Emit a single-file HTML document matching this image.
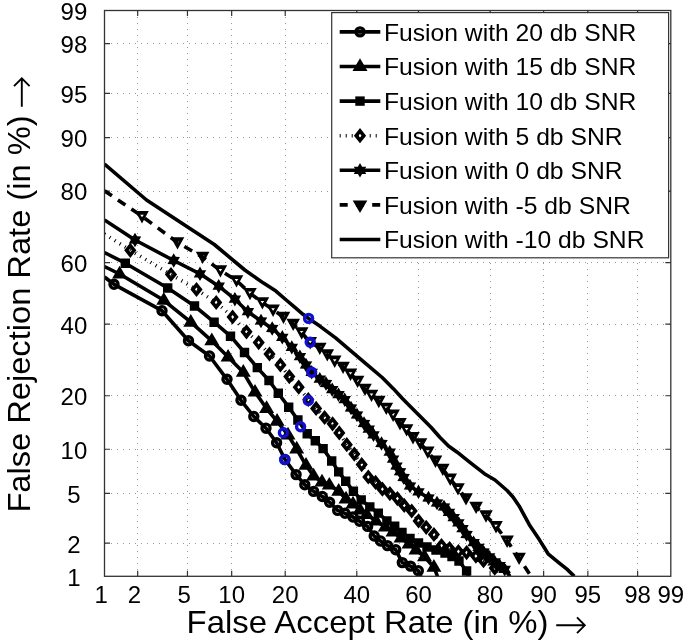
<!DOCTYPE html><html><head><meta charset="utf-8"><style>html,body{margin:0;padding:0;background:#fff;}body{width:685px;height:643px;overflow:hidden;font-family:"Liberation Sans",sans-serif;}</style></head><body><svg width="685" height="643" viewBox="0 0 685 643" style="display:block;will-change:transform">
<rect width="685" height="643" fill="#fff"/>
<path d="M137.50 11V576.3M105 543.50H670.8M187.50 11V576.3M105 493.50H670.8M231.50 11V576.3M105 449.50H670.8M285.50 11V576.3M105 395.50H670.8M356.50 11V576.3M105 324.50H670.8M418.50 11V576.3M105 262.50H670.8M490.50 11V576.3M105 191.50H670.8M543.50 11V576.3M105 137.50H670.8M587.50 11V576.3M105 93.50H670.8M637.50 11V576.3M105 43.50H670.8" stroke="#999" stroke-width="1" stroke-dasharray="1 5" fill="none"/>
<path d="M137.68 10.5v5.5M137.68 576.3v-5.5M104.5 543.15h5.5M670.8 543.15h-5.5M187.45 10.5v5.5M187.45 576.3v-5.5M104.5 493.43h5.5M670.8 493.43h-5.5M231.67 10.5v5.5M231.67 576.3v-5.5M104.5 449.25h5.5M670.8 449.25h-5.5M285.21 10.5v5.5M285.21 576.3v-5.5M104.5 395.75h5.5M670.8 395.75h-5.5M356.81 10.5v5.5M356.81 576.3v-5.5M104.5 324.21h5.5M670.8 324.21h-5.5M418.49 10.5v5.5M418.49 576.3v-5.5M104.5 262.59h5.5M670.8 262.59h-5.5M490.09 10.5v5.5M490.09 576.3v-5.5M104.5 191.05h5.5M670.8 191.05h-5.5M543.63 10.5v5.5M543.63 576.3v-5.5M104.5 137.55h5.5M670.8 137.55h-5.5M587.85 10.5v5.5M587.85 576.3v-5.5M104.5 93.37h5.5M670.8 93.37h-5.5M637.62 10.5v5.5M637.62 576.3v-5.5M104.5 43.65h5.5M670.8 43.65h-5.5" stroke="#333" stroke-width="1.2" fill="none"/>
<g font-family="Liberation Sans" font-size="24" fill="#000"><text x="101.17" y="603.3" text-anchor="middle">1</text><text x="80.63" y="585.70" text-anchor="end">1</text><text x="134.35" y="603.3" text-anchor="middle">2</text><text x="80.63" y="552.55" text-anchor="end">2</text><text x="184.11" y="603.3" text-anchor="middle">5</text><text x="80.63" y="502.83" text-anchor="end">5</text><text x="231.67" y="603.3" text-anchor="middle">10</text><text x="87.30" y="458.65" text-anchor="end">10</text><text x="285.21" y="603.3" text-anchor="middle">20</text><text x="87.30" y="405.15" text-anchor="end">20</text><text x="356.81" y="603.3" text-anchor="middle">40</text><text x="87.30" y="333.61" text-anchor="end">40</text><text x="418.49" y="603.3" text-anchor="middle">60</text><text x="87.30" y="271.99" text-anchor="end">60</text><text x="490.09" y="603.3" text-anchor="middle">80</text><text x="87.30" y="200.45" text-anchor="end">80</text><text x="543.63" y="603.3" text-anchor="middle">90</text><text x="87.30" y="146.95" text-anchor="end">90</text><text x="587.85" y="603.3" text-anchor="middle">95</text><text x="87.30" y="102.77" text-anchor="end">95</text><text x="637.62" y="603.3" text-anchor="middle">98</text><text x="87.30" y="53.05" text-anchor="end">98</text><text x="670.80" y="603.3" text-anchor="middle">99</text><text x="87.30" y="19.90" text-anchor="end">99</text></g>
<text transform="translate(186.6 633.2) scale(1.028 1)" font-family="Liberation Sans" font-size="32" fill="#000">False Accept Rate (in %)</text>
<path d="M556.2 625.3H584.3M577 617.4L584.8 625.3L577 633.2" fill="none" stroke="#000" stroke-width="1.9"/>
<text transform="translate(29.5 512.6) rotate(-90) scale(1.02 1)" font-family="Liberation Sans" font-size="32" fill="#000">False Rejection Rate (in %)</text>
<path d="M21.8 106.7V78.8M14 86.2L21.8 78.3L29.6 86.2" fill="none" stroke="#000" stroke-width="1.9"/>
<defs><clipPath id="ax"><rect x="104.5" y="10.5" width="566.3" height="565.8"/></clipPath></defs>
<g clip-path="url(#ax)">
<path d="M104.5 277.0L114.0 284.3L162.0 310.7L188.5 340.8L209.5 356.0L227.0 379.3L241.0 400.3L253.8 416.5L266.0 428.2L276.6 442.8L285.0 459.5L296.1 474.6L304.8 484.8L313.6 491.4L322.3 496.5L329.6 502.3L337.7 510.4L345.0 513.3L353.0 517.0L359.6 521.3L367.6 526.4L374.2 536.0L380.5 541.0L387.5 545.6L395.7 549.7L402.3 562.6L410.5 566.1L418.3 570.7L421.0 576.3" fill="none" stroke="#000" stroke-width="3.6" stroke-linejoin="round"/>
<path d="M108.30 284.30a5.7 5.7 0 1 0 11.4 0a5.7 5.7 0 1 0 -11.4 0ZM111.60 284.30a2.4 2.4 0 1 1 4.8 0a2.4 2.4 0 1 1 -4.8 0ZM156.30 310.70a5.7 5.7 0 1 0 11.4 0a5.7 5.7 0 1 0 -11.4 0ZM159.60 310.70a2.4 2.4 0 1 1 4.8 0a2.4 2.4 0 1 1 -4.8 0ZM182.80 340.80a5.7 5.7 0 1 0 11.4 0a5.7 5.7 0 1 0 -11.4 0ZM186.10 340.80a2.4 2.4 0 1 1 4.8 0a2.4 2.4 0 1 1 -4.8 0ZM203.80 356.00a5.7 5.7 0 1 0 11.4 0a5.7 5.7 0 1 0 -11.4 0ZM207.10 356.00a2.4 2.4 0 1 1 4.8 0a2.4 2.4 0 1 1 -4.8 0ZM221.30 379.30a5.7 5.7 0 1 0 11.4 0a5.7 5.7 0 1 0 -11.4 0ZM224.60 379.30a2.4 2.4 0 1 1 4.8 0a2.4 2.4 0 1 1 -4.8 0ZM235.30 400.30a5.7 5.7 0 1 0 11.4 0a5.7 5.7 0 1 0 -11.4 0ZM238.60 400.30a2.4 2.4 0 1 1 4.8 0a2.4 2.4 0 1 1 -4.8 0ZM248.10 416.50a5.7 5.7 0 1 0 11.4 0a5.7 5.7 0 1 0 -11.4 0ZM251.40 416.50a2.4 2.4 0 1 1 4.8 0a2.4 2.4 0 1 1 -4.8 0ZM260.30 428.20a5.7 5.7 0 1 0 11.4 0a5.7 5.7 0 1 0 -11.4 0ZM263.60 428.20a2.4 2.4 0 1 1 4.8 0a2.4 2.4 0 1 1 -4.8 0ZM270.90 442.80a5.7 5.7 0 1 0 11.4 0a5.7 5.7 0 1 0 -11.4 0ZM274.20 442.80a2.4 2.4 0 1 1 4.8 0a2.4 2.4 0 1 1 -4.8 0ZM279.30 459.50a5.7 5.7 0 1 0 11.4 0a5.7 5.7 0 1 0 -11.4 0ZM282.60 459.50a2.4 2.4 0 1 1 4.8 0a2.4 2.4 0 1 1 -4.8 0ZM290.40 474.60a5.7 5.7 0 1 0 11.4 0a5.7 5.7 0 1 0 -11.4 0ZM293.70 474.60a2.4 2.4 0 1 1 4.8 0a2.4 2.4 0 1 1 -4.8 0ZM299.10 484.80a5.7 5.7 0 1 0 11.4 0a5.7 5.7 0 1 0 -11.4 0ZM302.40 484.80a2.4 2.4 0 1 1 4.8 0a2.4 2.4 0 1 1 -4.8 0ZM307.90 491.40a5.7 5.7 0 1 0 11.4 0a5.7 5.7 0 1 0 -11.4 0ZM311.20 491.40a2.4 2.4 0 1 1 4.8 0a2.4 2.4 0 1 1 -4.8 0ZM316.60 496.50a5.7 5.7 0 1 0 11.4 0a5.7 5.7 0 1 0 -11.4 0ZM319.90 496.50a2.4 2.4 0 1 1 4.8 0a2.4 2.4 0 1 1 -4.8 0ZM323.90 502.30a5.7 5.7 0 1 0 11.4 0a5.7 5.7 0 1 0 -11.4 0ZM327.20 502.30a2.4 2.4 0 1 1 4.8 0a2.4 2.4 0 1 1 -4.8 0ZM332.00 510.40a5.7 5.7 0 1 0 11.4 0a5.7 5.7 0 1 0 -11.4 0ZM335.30 510.40a2.4 2.4 0 1 1 4.8 0a2.4 2.4 0 1 1 -4.8 0ZM339.30 513.30a5.7 5.7 0 1 0 11.4 0a5.7 5.7 0 1 0 -11.4 0ZM342.60 513.30a2.4 2.4 0 1 1 4.8 0a2.4 2.4 0 1 1 -4.8 0ZM347.30 517.00a5.7 5.7 0 1 0 11.4 0a5.7 5.7 0 1 0 -11.4 0ZM350.60 517.00a2.4 2.4 0 1 1 4.8 0a2.4 2.4 0 1 1 -4.8 0ZM353.90 521.30a5.7 5.7 0 1 0 11.4 0a5.7 5.7 0 1 0 -11.4 0ZM357.20 521.30a2.4 2.4 0 1 1 4.8 0a2.4 2.4 0 1 1 -4.8 0ZM361.90 526.40a5.7 5.7 0 1 0 11.4 0a5.7 5.7 0 1 0 -11.4 0ZM365.20 526.40a2.4 2.4 0 1 1 4.8 0a2.4 2.4 0 1 1 -4.8 0ZM368.50 536.00a5.7 5.7 0 1 0 11.4 0a5.7 5.7 0 1 0 -11.4 0ZM371.80 536.00a2.4 2.4 0 1 1 4.8 0a2.4 2.4 0 1 1 -4.8 0ZM374.80 541.00a5.7 5.7 0 1 0 11.4 0a5.7 5.7 0 1 0 -11.4 0ZM378.10 541.00a2.4 2.4 0 1 1 4.8 0a2.4 2.4 0 1 1 -4.8 0ZM381.80 545.60a5.7 5.7 0 1 0 11.4 0a5.7 5.7 0 1 0 -11.4 0ZM385.10 545.60a2.4 2.4 0 1 1 4.8 0a2.4 2.4 0 1 1 -4.8 0ZM390.00 549.70a5.7 5.7 0 1 0 11.4 0a5.7 5.7 0 1 0 -11.4 0ZM393.30 549.70a2.4 2.4 0 1 1 4.8 0a2.4 2.4 0 1 1 -4.8 0ZM396.60 562.60a5.7 5.7 0 1 0 11.4 0a5.7 5.7 0 1 0 -11.4 0ZM399.90 562.60a2.4 2.4 0 1 1 4.8 0a2.4 2.4 0 1 1 -4.8 0ZM404.80 566.10a5.7 5.7 0 1 0 11.4 0a5.7 5.7 0 1 0 -11.4 0ZM408.10 566.10a2.4 2.4 0 1 1 4.8 0a2.4 2.4 0 1 1 -4.8 0ZM412.60 570.70a5.7 5.7 0 1 0 11.4 0a5.7 5.7 0 1 0 -11.4 0ZM415.90 570.70a2.4 2.4 0 1 1 4.8 0a2.4 2.4 0 1 1 -4.8 0Z" fill="#000" fill-rule="nonzero"/>
<path d="M104.5 266.6L119.6 274.0L163.8 300.3L190.8 322.2L211.8 340.8L228.1 357.1L243.3 372.3L255.0 392.1L266.6 408.5L277.1 421.3L288.0 435.0L296.7 449.0L306.0 465.3L313.6 476.0L322.0 482.0L329.3 485.1L338.7 491.3L346.0 499.0L353.0 504.0L360.0 510.0L366.7 514.6L376.0 520.9L385.3 527.1L393.0 532.0L401.0 538.0L409.0 544.0L416.0 550.0L424.5 556.7L433.9 567.2L437.5 576.3" fill="none" stroke="#000" stroke-width="3.6" stroke-linejoin="round"/>
<path d="M119.60 265.80L127.10 278.50L112.10 278.50ZM163.80 292.10L171.30 304.80L156.30 304.80ZM190.80 314.00L198.30 326.70L183.30 326.70ZM211.80 332.60L219.30 345.30L204.30 345.30ZM228.10 348.90L235.60 361.60L220.60 361.60ZM243.30 364.10L250.80 376.80L235.80 376.80ZM255.00 383.90L262.50 396.60L247.50 396.60ZM266.60 400.30L274.10 413.00L259.10 413.00ZM277.10 413.10L284.60 425.80L269.60 425.80ZM288.00 426.80L295.50 439.50L280.50 439.50ZM296.70 440.80L304.20 453.50L289.20 453.50ZM306.00 457.10L313.50 469.80L298.50 469.80ZM313.60 467.80L321.10 480.50L306.10 480.50ZM322.00 473.80L329.50 486.50L314.50 486.50ZM329.30 476.90L336.80 489.60L321.80 489.60ZM338.70 483.10L346.20 495.80L331.20 495.80ZM346.00 490.80L353.50 503.50L338.50 503.50ZM353.00 495.80L360.50 508.50L345.50 508.50ZM360.00 501.80L367.50 514.50L352.50 514.50ZM366.70 506.40L374.20 519.10L359.20 519.10ZM376.00 512.70L383.50 525.40L368.50 525.40ZM385.30 518.90L392.80 531.60L377.80 531.60ZM393.00 523.80L400.50 536.50L385.50 536.50ZM401.00 529.80L408.50 542.50L393.50 542.50ZM409.00 535.80L416.50 548.50L401.50 548.50ZM416.00 541.80L423.50 554.50L408.50 554.50ZM424.50 548.50L432.00 561.20L417.00 561.20ZM433.90 559.00L441.40 571.70L426.40 571.70Z" fill="#000" fill-rule="nonzero"/>
<path d="M104.5 252.6L125.3 263.2L167.7 288.0L194.5 306.0L214.1 322.2L230.5 336.2L244.5 352.5L257.3 367.6L269.0 380.5L278.3 393.3L288.7 407.2L297.9 420.0L307.2 433.8L315.3 440.8L323.1 448.6L331.7 461.0L338.7 471.9L345.7 481.2L353.4 491.3L361.2 499.9L369.8 506.9L378.3 513.1L386.9 520.9L394.7 526.3L402.0 532.5L410.0 538.5L418.5 543.0L427.0 547.0L436.0 550.0L445.0 553.0L452.0 556.5L459.0 561.0L466.6 571.0L468.5 576.3" fill="none" stroke="#000" stroke-width="3.6" stroke-linejoin="round"/>
<path d="M120.60 258.50L130.00 258.50L130.00 267.90L120.60 267.90ZM163.00 283.30L172.40 283.30L172.40 292.70L163.00 292.70ZM189.80 301.30L199.20 301.30L199.20 310.70L189.80 310.70ZM209.40 317.50L218.80 317.50L218.80 326.90L209.40 326.90ZM225.80 331.50L235.20 331.50L235.20 340.90L225.80 340.90ZM239.80 347.80L249.20 347.80L249.20 357.20L239.80 357.20ZM252.60 362.90L262.00 362.90L262.00 372.30L252.60 372.30ZM264.30 375.80L273.70 375.80L273.70 385.20L264.30 385.20ZM273.60 388.60L283.00 388.60L283.00 398.00L273.60 398.00ZM284.00 402.50L293.40 402.50L293.40 411.90L284.00 411.90ZM293.20 415.30L302.60 415.30L302.60 424.70L293.20 424.70ZM302.50 429.10L311.90 429.10L311.90 438.50L302.50 438.50ZM310.60 436.10L320.00 436.10L320.00 445.50L310.60 445.50ZM318.40 443.90L327.80 443.90L327.80 453.30L318.40 453.30ZM327.00 456.30L336.40 456.30L336.40 465.70L327.00 465.70ZM334.00 467.20L343.40 467.20L343.40 476.60L334.00 476.60ZM341.00 476.50L350.40 476.50L350.40 485.90L341.00 485.90ZM348.70 486.60L358.10 486.60L358.10 496.00L348.70 496.00ZM356.50 495.20L365.90 495.20L365.90 504.60L356.50 504.60ZM365.10 502.20L374.50 502.20L374.50 511.60L365.10 511.60ZM373.60 508.40L383.00 508.40L383.00 517.80L373.60 517.80ZM382.20 516.20L391.60 516.20L391.60 525.60L382.20 525.60ZM390.00 521.60L399.40 521.60L399.40 531.00L390.00 531.00ZM397.30 527.80L406.70 527.80L406.70 537.20L397.30 537.20ZM405.30 533.80L414.70 533.80L414.70 543.20L405.30 543.20ZM413.80 538.30L423.20 538.30L423.20 547.70L413.80 547.70ZM422.30 542.30L431.70 542.30L431.70 551.70L422.30 551.70ZM431.30 545.30L440.70 545.30L440.70 554.70L431.30 554.70ZM440.30 548.30L449.70 548.30L449.70 557.70L440.30 557.70ZM447.30 551.80L456.70 551.80L456.70 561.20L447.30 561.20ZM454.30 556.30L463.70 556.30L463.70 565.70L454.30 565.70ZM461.90 566.30L471.30 566.30L471.30 575.70L461.90 575.70Z" fill="#000" fill-rule="nonzero"/>
<path d="M104.5 234.0L130.3 250.3L171.0 274.5L196.5 289.5L216.2 302.5L232.6 317.0L246.5 331.8L258.7 342.6L269.5 354.0L280.4 364.9L289.3 376.6L298.7 387.2L308.3 399.5L316.1 408.4L324.6 417.5L332.6 423.8L339.3 432.9L346.8 444.7L354.3 454.1L361.7 464.6L368.3 477.0L375.6 482.4L382.4 489.2L389.9 493.6L397.4 498.6L404.2 505.4L411.7 511.0L418.6 520.9L426.2 527.3L433.9 534.5L441.5 545.6L449.6 548.5L458.4 551.5L466.6 552.6L475.9 556.1L483.5 560.7L494.7 568.1L499.0 576.3" fill="none" stroke="#000" stroke-width="3.6" stroke-linejoin="round" stroke-dasharray="1 5"/>
<path d="M130.30 242.70L136.40 250.30L130.30 257.90L124.20 250.30ZM130.30 248.40L128.80 250.30L130.30 252.20L131.80 250.30ZM171.00 266.90L177.10 274.50L171.00 282.10L164.90 274.50ZM171.00 272.60L169.50 274.50L171.00 276.40L172.50 274.50ZM196.50 281.90L202.60 289.50L196.50 297.10L190.40 289.50ZM196.50 287.60L195.00 289.50L196.50 291.40L198.00 289.50ZM216.20 294.90L222.30 302.50L216.20 310.10L210.10 302.50ZM216.20 300.60L214.70 302.50L216.20 304.40L217.70 302.50ZM232.60 309.40L238.70 317.00L232.60 324.60L226.50 317.00ZM232.60 315.10L231.10 317.00L232.60 318.90L234.10 317.00ZM246.50 324.20L252.60 331.80L246.50 339.40L240.40 331.80ZM246.50 329.90L245.00 331.80L246.50 333.70L248.00 331.80ZM258.70 335.00L264.80 342.60L258.70 350.20L252.60 342.60ZM258.70 340.70L257.20 342.60L258.70 344.50L260.20 342.60ZM269.50 346.40L275.60 354.00L269.50 361.60L263.40 354.00ZM269.50 352.10L268.00 354.00L269.50 355.90L271.00 354.00ZM280.40 357.30L286.50 364.90L280.40 372.50L274.30 364.90ZM280.40 363.00L278.90 364.90L280.40 366.80L281.90 364.90ZM289.30 369.00L295.40 376.60L289.30 384.20L283.20 376.60ZM289.30 374.70L287.80 376.60L289.30 378.50L290.80 376.60ZM298.70 379.60L304.80 387.20L298.70 394.80L292.60 387.20ZM298.70 385.30L297.20 387.20L298.70 389.10L300.20 387.20ZM308.30 391.90L314.40 399.50L308.30 407.10L302.20 399.50ZM308.30 397.60L306.80 399.50L308.30 401.40L309.80 399.50ZM316.10 400.80L322.20 408.40L316.10 416.00L310.00 408.40ZM316.10 406.50L314.60 408.40L316.10 410.30L317.60 408.40ZM324.60 409.90L330.70 417.50L324.60 425.10L318.50 417.50ZM324.60 415.60L323.10 417.50L324.60 419.40L326.10 417.50ZM332.60 416.20L338.70 423.80L332.60 431.40L326.50 423.80ZM332.60 421.90L331.10 423.80L332.60 425.70L334.10 423.80ZM339.30 425.30L345.40 432.90L339.30 440.50L333.20 432.90ZM339.30 431.00L337.80 432.90L339.30 434.80L340.80 432.90ZM346.80 437.10L352.90 444.70L346.80 452.30L340.70 444.70ZM346.80 442.80L345.30 444.70L346.80 446.60L348.30 444.70ZM354.30 446.50L360.40 454.10L354.30 461.70L348.20 454.10ZM354.30 452.20L352.80 454.10L354.30 456.00L355.80 454.10ZM361.70 457.00L367.80 464.60L361.70 472.20L355.60 464.60ZM361.70 462.70L360.20 464.60L361.70 466.50L363.20 464.60ZM368.30 469.40L374.40 477.00L368.30 484.60L362.20 477.00ZM368.30 475.10L366.80 477.00L368.30 478.90L369.80 477.00ZM375.60 474.80L381.70 482.40L375.60 490.00L369.50 482.40ZM375.60 480.50L374.10 482.40L375.60 484.30L377.10 482.40ZM382.40 481.60L388.50 489.20L382.40 496.80L376.30 489.20ZM382.40 487.30L380.90 489.20L382.40 491.10L383.90 489.20ZM389.90 486.00L396.00 493.60L389.90 501.20L383.80 493.60ZM389.90 491.70L388.40 493.60L389.90 495.50L391.40 493.60ZM397.40 491.00L403.50 498.60L397.40 506.20L391.30 498.60ZM397.40 496.70L395.90 498.60L397.40 500.50L398.90 498.60ZM404.20 497.80L410.30 505.40L404.20 513.00L398.10 505.40ZM404.20 503.50L402.70 505.40L404.20 507.30L405.70 505.40ZM411.70 503.40L417.80 511.00L411.70 518.60L405.60 511.00ZM411.70 509.10L410.20 511.00L411.70 512.90L413.20 511.00ZM418.60 513.30L424.70 520.90L418.60 528.50L412.50 520.90ZM418.60 519.00L417.10 520.90L418.60 522.80L420.10 520.90ZM426.20 519.70L432.30 527.30L426.20 534.90L420.10 527.30ZM426.20 525.40L424.70 527.30L426.20 529.20L427.70 527.30ZM433.90 526.90L440.00 534.50L433.90 542.10L427.80 534.50ZM433.90 532.60L432.40 534.50L433.90 536.40L435.40 534.50ZM441.50 538.00L447.60 545.60L441.50 553.20L435.40 545.60ZM441.50 543.70L440.00 545.60L441.50 547.50L443.00 545.60ZM449.60 540.90L455.70 548.50L449.60 556.10L443.50 548.50ZM449.60 546.60L448.10 548.50L449.60 550.40L451.10 548.50ZM458.40 543.90L464.50 551.50L458.40 559.10L452.30 551.50ZM458.40 549.60L456.90 551.50L458.40 553.40L459.90 551.50ZM466.60 545.00L472.70 552.60L466.60 560.20L460.50 552.60ZM466.60 550.70L465.10 552.60L466.60 554.50L468.10 552.60ZM475.90 548.50L482.00 556.10L475.90 563.70L469.80 556.10ZM475.90 554.20L474.40 556.10L475.90 558.00L477.40 556.10ZM483.50 553.10L489.60 560.70L483.50 568.30L477.40 560.70ZM483.50 558.80L482.00 560.70L483.50 562.60L485.00 560.70ZM494.70 560.50L500.80 568.10L494.70 575.70L488.60 568.10ZM494.70 566.20L493.20 568.10L494.70 570.00L496.20 568.10Z" fill="#000" fill-rule="nonzero"/>
<path d="M104.5 220.0L135.0 240.0L173.7 260.5L200.0 273.8L218.7 286.2L234.9 299.2L247.9 311.7L261.0 321.0L272.2 328.5L282.3 337.3L291.8 347.4L299.9 356.7L306.0 365.0L311.7 372.3L319.8 379.1L326.0 383.5L332.2 389.7L338.5 394.7L344.7 399.7L351.0 408.0L357.0 415.0L364.0 423.5L373.5 434.8L381.5 443.5L389.7 452.2L396.5 466.0L403.6 477.5L410.0 486.0L418.5 491.8L428.5 498.0L437.0 503.0L444.0 507.0L449.0 512.3L458.4 522.8L466.6 534.5L473.6 542.7L483.5 552.0L494.7 561.9L504.7 569.4L510.0 576.3" fill="none" stroke="#000" stroke-width="3.6" stroke-linejoin="round"/>
<path d="M135.00 232.80L132.90 236.36L128.76 236.40L130.80 240.00L128.76 243.60L132.90 243.64L135.00 247.20L137.10 243.64L141.24 243.60L139.20 240.00L141.24 236.40L137.10 236.36ZM173.70 253.30L171.60 256.86L167.46 256.90L169.50 260.50L167.46 264.10L171.60 264.14L173.70 267.70L175.80 264.14L179.94 264.10L177.90 260.50L179.94 256.90L175.80 256.86ZM200.00 266.60L197.90 270.16L193.76 270.20L195.80 273.80L193.76 277.40L197.90 277.44L200.00 281.00L202.10 277.44L206.24 277.40L204.20 273.80L206.24 270.20L202.10 270.16ZM218.70 279.00L216.60 282.56L212.46 282.60L214.50 286.20L212.46 289.80L216.60 289.84L218.70 293.40L220.80 289.84L224.94 289.80L222.90 286.20L224.94 282.60L220.80 282.56ZM234.90 292.00L232.80 295.56L228.66 295.60L230.70 299.20L228.66 302.80L232.80 302.84L234.90 306.40L237.00 302.84L241.14 302.80L239.10 299.20L241.14 295.60L237.00 295.56ZM247.90 304.50L245.80 308.06L241.66 308.10L243.70 311.70L241.66 315.30L245.80 315.34L247.90 318.90L250.00 315.34L254.14 315.30L252.10 311.70L254.14 308.10L250.00 308.06ZM261.00 313.80L258.90 317.36L254.76 317.40L256.80 321.00L254.76 324.60L258.90 324.64L261.00 328.20L263.10 324.64L267.24 324.60L265.20 321.00L267.24 317.40L263.10 317.36ZM272.20 321.30L270.10 324.86L265.96 324.90L268.00 328.50L265.96 332.10L270.10 332.14L272.20 335.70L274.30 332.14L278.44 332.10L276.40 328.50L278.44 324.90L274.30 324.86ZM282.30 330.10L280.20 333.66L276.06 333.70L278.10 337.30L276.06 340.90L280.20 340.94L282.30 344.50L284.40 340.94L288.54 340.90L286.50 337.30L288.54 333.70L284.40 333.66ZM291.80 340.20L289.70 343.76L285.56 343.80L287.60 347.40L285.56 351.00L289.70 351.04L291.80 354.60L293.90 351.04L298.04 351.00L296.00 347.40L298.04 343.80L293.90 343.76ZM299.90 349.50L297.80 353.06L293.66 353.10L295.70 356.70L293.66 360.30L297.80 360.34L299.90 363.90L302.00 360.34L306.14 360.30L304.10 356.70L306.14 353.10L302.00 353.06ZM306.00 357.80L303.90 361.36L299.76 361.40L301.80 365.00L299.76 368.60L303.90 368.64L306.00 372.20L308.10 368.64L312.24 368.60L310.20 365.00L312.24 361.40L308.10 361.36ZM311.70 365.10L309.60 368.66L305.46 368.70L307.50 372.30L305.46 375.90L309.60 375.94L311.70 379.50L313.80 375.94L317.94 375.90L315.90 372.30L317.94 368.70L313.80 368.66ZM319.80 371.90L317.70 375.46L313.56 375.50L315.60 379.10L313.56 382.70L317.70 382.74L319.80 386.30L321.90 382.74L326.04 382.70L324.00 379.10L326.04 375.50L321.90 375.46ZM326.00 376.30L323.90 379.86L319.76 379.90L321.80 383.50L319.76 387.10L323.90 387.14L326.00 390.70L328.10 387.14L332.24 387.10L330.20 383.50L332.24 379.90L328.10 379.86ZM332.20 382.50L330.10 386.06L325.96 386.10L328.00 389.70L325.96 393.30L330.10 393.34L332.20 396.90L334.30 393.34L338.44 393.30L336.40 389.70L338.44 386.10L334.30 386.06ZM338.50 387.50L336.40 391.06L332.26 391.10L334.30 394.70L332.26 398.30L336.40 398.34L338.50 401.90L340.60 398.34L344.74 398.30L342.70 394.70L344.74 391.10L340.60 391.06ZM344.70 392.50L342.60 396.06L338.46 396.10L340.50 399.70L338.46 403.30L342.60 403.34L344.70 406.90L346.80 403.34L350.94 403.30L348.90 399.70L350.94 396.10L346.80 396.06ZM351.00 400.80L348.90 404.36L344.76 404.40L346.80 408.00L344.76 411.60L348.90 411.64L351.00 415.20L353.10 411.64L357.24 411.60L355.20 408.00L357.24 404.40L353.10 404.36ZM357.00 407.80L354.90 411.36L350.76 411.40L352.80 415.00L350.76 418.60L354.90 418.64L357.00 422.20L359.10 418.64L363.24 418.60L361.20 415.00L363.24 411.40L359.10 411.36ZM364.00 416.30L361.90 419.86L357.76 419.90L359.80 423.50L357.76 427.10L361.90 427.14L364.00 430.70L366.10 427.14L370.24 427.10L368.20 423.50L370.24 419.90L366.10 419.86ZM373.50 427.60L371.40 431.16L367.26 431.20L369.30 434.80L367.26 438.40L371.40 438.44L373.50 442.00L375.60 438.44L379.74 438.40L377.70 434.80L379.74 431.20L375.60 431.16ZM381.50 436.30L379.40 439.86L375.26 439.90L377.30 443.50L375.26 447.10L379.40 447.14L381.50 450.70L383.60 447.14L387.74 447.10L385.70 443.50L387.74 439.90L383.60 439.86ZM389.70 445.00L387.60 448.56L383.46 448.60L385.50 452.20L383.46 455.80L387.60 455.84L389.70 459.40L391.80 455.84L395.94 455.80L393.90 452.20L395.94 448.60L391.80 448.56ZM396.50 458.80L394.40 462.36L390.26 462.40L392.30 466.00L390.26 469.60L394.40 469.64L396.50 473.20L398.60 469.64L402.74 469.60L400.70 466.00L402.74 462.40L398.60 462.36ZM403.60 470.30L401.50 473.86L397.36 473.90L399.40 477.50L397.36 481.10L401.50 481.14L403.60 484.70L405.70 481.14L409.84 481.10L407.80 477.50L409.84 473.90L405.70 473.86ZM410.00 478.80L407.90 482.36L403.76 482.40L405.80 486.00L403.76 489.60L407.90 489.64L410.00 493.20L412.10 489.64L416.24 489.60L414.20 486.00L416.24 482.40L412.10 482.36ZM418.50 484.60L416.40 488.16L412.26 488.20L414.30 491.80L412.26 495.40L416.40 495.44L418.50 499.00L420.60 495.44L424.74 495.40L422.70 491.80L424.74 488.20L420.60 488.16ZM428.50 490.80L426.40 494.36L422.26 494.40L424.30 498.00L422.26 501.60L426.40 501.64L428.50 505.20L430.60 501.64L434.74 501.60L432.70 498.00L434.74 494.40L430.60 494.36ZM437.00 495.80L434.90 499.36L430.76 499.40L432.80 503.00L430.76 506.60L434.90 506.64L437.00 510.20L439.10 506.64L443.24 506.60L441.20 503.00L443.24 499.40L439.10 499.36ZM444.00 499.80L441.90 503.36L437.76 503.40L439.80 507.00L437.76 510.60L441.90 510.64L444.00 514.20L446.10 510.64L450.24 510.60L448.20 507.00L450.24 503.40L446.10 503.36ZM449.00 505.10L446.90 508.66L442.76 508.70L444.80 512.30L442.76 515.90L446.90 515.94L449.00 519.50L451.10 515.94L455.24 515.90L453.20 512.30L455.24 508.70L451.10 508.66ZM458.40 515.60L456.30 519.16L452.16 519.20L454.20 522.80L452.16 526.40L456.30 526.44L458.40 530.00L460.50 526.44L464.64 526.40L462.60 522.80L464.64 519.20L460.50 519.16ZM466.60 527.30L464.50 530.86L460.36 530.90L462.40 534.50L460.36 538.10L464.50 538.14L466.60 541.70L468.70 538.14L472.84 538.10L470.80 534.50L472.84 530.90L468.70 530.86ZM473.60 535.50L471.50 539.06L467.36 539.10L469.40 542.70L467.36 546.30L471.50 546.34L473.60 549.90L475.70 546.34L479.84 546.30L477.80 542.70L479.84 539.10L475.70 539.06ZM483.50 544.80L481.40 548.36L477.26 548.40L479.30 552.00L477.26 555.60L481.40 555.64L483.50 559.20L485.60 555.64L489.74 555.60L487.70 552.00L489.74 548.40L485.60 548.36ZM494.70 554.70L492.60 558.26L488.46 558.30L490.50 561.90L488.46 565.50L492.60 565.54L494.70 569.10L496.80 565.54L500.94 565.50L498.90 561.90L500.94 558.30L496.80 558.26ZM504.70 562.20L502.60 565.76L498.46 565.80L500.50 569.40L498.46 573.00L502.60 573.04L504.70 576.60L506.80 573.04L510.94 573.00L508.90 569.40L510.94 565.80L506.80 565.76ZM368.75 421.95L366.65 425.51L362.51 425.55L364.55 429.15L362.51 432.75L366.65 432.79L368.75 436.35L370.85 432.79L374.99 432.75L372.95 429.15L374.99 425.55L370.85 425.51ZM393.10 451.90L391.00 455.46L386.86 455.50L388.90 459.10L386.86 462.70L391.00 462.74L393.10 466.30L395.20 462.74L399.34 462.70L397.30 459.10L399.34 455.50L395.20 455.46ZM400.05 464.55L397.95 468.11L393.81 468.15L395.85 471.75L393.81 475.35L397.95 475.39L400.05 478.95L402.15 475.39L406.29 475.35L404.25 471.75L406.29 468.15L402.15 468.11ZM453.70 510.35L451.60 513.91L447.46 513.95L449.50 517.55L447.46 521.15L451.60 521.19L453.70 524.75L455.80 521.19L459.94 521.15L457.90 517.55L459.94 513.95L455.80 513.91ZM462.50 521.45L460.40 525.01L456.26 525.05L458.30 528.65L456.26 532.25L460.40 532.29L462.50 535.85L464.60 532.29L468.74 532.25L466.70 528.65L468.74 525.05L464.60 525.01ZM478.55 540.15L476.45 543.71L472.31 543.75L474.35 547.35L472.31 550.95L476.45 550.99L478.55 554.55L480.65 550.99L484.79 550.95L482.75 547.35L484.79 543.75L480.65 543.71ZM489.10 549.75L487.00 553.31L482.86 553.35L484.90 556.95L482.86 560.55L487.00 560.59L489.10 564.15L491.20 560.59L495.34 560.55L493.30 556.95L495.34 553.35L491.20 553.31ZM499.70 558.45L497.60 562.01L493.46 562.05L495.50 565.65L493.46 569.25L497.60 569.29L499.70 572.85L501.80 569.29L505.94 569.25L503.90 565.65L505.94 562.05L501.80 562.01Z" fill="#000" fill-rule="nonzero"/>
<path d="M104.5 190.8L142.0 216.3L177.5 242.5L202.6 257.0L220.4 270.5L236.5 280.5L250.0 293.2L262.4 302.5L273.1 309.8L283.5 317.0L293.2 324.0L301.7 332.6L310.2 342.3L319.8 348.0L327.3 354.5L334.7 360.8L343.1 367.0L350.5 373.8L357.6 381.0L365.0 389.0L371.5 395.0L378.8 401.1L386.3 408.0L393.1 414.9L400.0 423.3L406.6 429.5L413.0 437.3L420.5 443.5L427.8 451.8L435.5 460.8L442.8 469.0L450.2 478.9L458.0 488.5L466.0 498.5L476.1 507.0L486.0 515.6L496.0 526.4L507.1 540.9L519.1 558.0L531.0 576.3" fill="none" stroke="#000" stroke-width="3.6" stroke-linejoin="round" stroke-dasharray="9 7.23"/>
<path d="M135.20 211.00L148.80 211.00L142.00 223.40ZM140.20 214.70L142.00 217.30L143.80 214.70ZM170.70 237.20L184.30 237.20L177.50 249.60ZM175.70 240.90L177.50 243.50L179.30 240.90ZM195.80 251.70L209.40 251.70L202.60 264.10ZM200.80 255.40L202.60 258.00L204.40 255.40ZM213.60 265.20L227.20 265.20L220.40 277.60ZM218.60 268.90L220.40 271.50L222.20 268.90ZM229.70 275.20L243.30 275.20L236.50 287.60ZM234.70 278.90L236.50 281.50L238.30 278.90ZM243.20 287.90L256.80 287.90L250.00 300.30ZM248.20 291.60L250.00 294.20L251.80 291.60ZM255.60 297.20L269.20 297.20L262.40 309.60ZM260.60 300.90L262.40 303.50L264.20 300.90ZM266.30 304.50L279.90 304.50L273.10 316.90ZM271.30 308.20L273.10 310.80L274.90 308.20ZM276.70 311.70L290.30 311.70L283.50 324.10ZM281.70 315.40L283.50 318.00L285.30 315.40ZM286.40 318.70L300.00 318.70L293.20 331.10ZM291.40 322.40L293.20 325.00L295.00 322.40ZM294.90 327.30L308.50 327.30L301.70 339.70ZM299.90 331.00L301.70 333.60L303.50 331.00ZM303.40 337.00L317.00 337.00L310.20 349.40ZM308.40 340.70L310.20 343.30L312.00 340.70ZM313.00 342.70L326.60 342.70L319.80 355.10ZM318.00 346.40L319.80 349.00L321.60 346.40ZM320.50 349.20L334.10 349.20L327.30 361.60ZM325.50 352.90L327.30 355.50L329.10 352.90ZM327.90 355.50L341.50 355.50L334.70 367.90ZM332.90 359.20L334.70 361.80L336.50 359.20ZM336.30 361.70L349.90 361.70L343.10 374.10ZM341.30 365.40L343.10 368.00L344.90 365.40ZM343.70 368.50L357.30 368.50L350.50 380.90ZM348.70 372.20L350.50 374.80L352.30 372.20ZM350.80 375.70L364.40 375.70L357.60 388.10ZM355.80 379.40L357.60 382.00L359.40 379.40ZM358.20 383.70L371.80 383.70L365.00 396.10ZM363.20 387.40L365.00 390.00L366.80 387.40ZM364.70 389.70L378.30 389.70L371.50 402.10ZM369.70 393.40L371.50 396.00L373.30 393.40ZM372.00 395.80L385.60 395.80L378.80 408.20ZM377.00 399.50L378.80 402.10L380.60 399.50ZM379.50 402.70L393.10 402.70L386.30 415.10ZM384.50 406.40L386.30 409.00L388.10 406.40ZM386.30 409.60L399.90 409.60L393.10 422.00ZM391.30 413.30L393.10 415.90L394.90 413.30ZM393.20 418.00L406.80 418.00L400.00 430.40ZM398.20 421.70L400.00 424.30L401.80 421.70ZM399.80 424.20L413.40 424.20L406.60 436.60ZM404.80 427.90L406.60 430.50L408.40 427.90ZM406.20 432.00L419.80 432.00L413.00 444.40ZM411.20 435.70L413.00 438.30L414.80 435.70ZM413.70 438.20L427.30 438.20L420.50 450.60ZM418.70 441.90L420.50 444.50L422.30 441.90ZM421.00 446.50L434.60 446.50L427.80 458.90ZM426.00 450.20L427.80 452.80L429.60 450.20ZM428.70 455.50L442.30 455.50L435.50 467.90ZM433.70 459.20L435.50 461.80L437.30 459.20ZM436.00 463.70L449.60 463.70L442.80 476.10ZM441.00 467.40L442.80 470.00L444.60 467.40ZM443.40 473.60L457.00 473.60L450.20 486.00ZM448.40 477.30L450.20 479.90L452.00 477.30ZM451.20 483.20L464.80 483.20L458.00 495.60ZM456.20 486.90L458.00 489.50L459.80 486.90ZM459.20 493.20L472.80 493.20L466.00 505.60ZM464.20 496.90L466.00 499.50L467.80 496.90ZM469.30 501.70L482.90 501.70L476.10 514.10ZM474.30 505.40L476.10 508.00L477.90 505.40ZM479.20 510.30L492.80 510.30L486.00 522.70ZM484.20 514.00L486.00 516.60L487.80 514.00ZM489.20 521.10L502.80 521.10L496.00 533.50ZM494.20 524.80L496.00 527.40L497.80 524.80ZM500.30 535.60L513.90 535.60L507.10 548.00ZM505.30 539.30L507.10 541.90L508.90 539.30ZM512.30 552.70L525.90 552.70L519.10 565.10ZM517.30 556.40L519.10 559.00L520.90 556.40Z" fill="#000" fill-rule="nonzero"/>
<path d="M104.5 164.0L146.5 200.0L180.0 222.0L214.3 244.5L244.8 270.0L263.5 283.1L275.9 291.1L286.2 300.0L294.9 307.4L303.0 314.3L308.6 318.4L319.8 326.1L335.6 337.9L351.1 351.1L366.7 364.3L382.2 377.5L393.1 388.4L402.4 398.5L413.3 409.4L422.3 418.6L431.0 427.3L439.8 437.3L448.5 446.0L457.2 452.2L469.6 462.1L484.4 473.7L495.0 480.0L507.1 490.5L513.0 497.0L519.1 505.9L529.3 524.7L539.6 540.1L548.1 553.8L558.4 562.3L566.9 569.1L574.3 576.3" fill="none" stroke="#000" stroke-width="3.6" stroke-linejoin="round"/>
<path d="M302.90 318.40a5.7 5.7 0 1 0 11.4 0a5.7 5.7 0 1 0 -11.4 0ZM306.20 318.40a2.4 2.4 0 1 1 4.8 0a2.4 2.4 0 1 1 -4.8 0ZM304.50 342.30a5.7 5.7 0 1 0 11.4 0a5.7 5.7 0 1 0 -11.4 0ZM307.80 342.30a2.4 2.4 0 1 1 4.8 0a2.4 2.4 0 1 1 -4.8 0ZM306.00 372.30a5.7 5.7 0 1 0 11.4 0a5.7 5.7 0 1 0 -11.4 0ZM309.30 372.30a2.4 2.4 0 1 1 4.8 0a2.4 2.4 0 1 1 -4.8 0ZM302.60 400.50a5.7 5.7 0 1 0 11.4 0a5.7 5.7 0 1 0 -11.4 0ZM305.90 400.50a2.4 2.4 0 1 1 4.8 0a2.4 2.4 0 1 1 -4.8 0ZM294.90 426.70a5.7 5.7 0 1 0 11.4 0a5.7 5.7 0 1 0 -11.4 0ZM298.20 426.70a2.4 2.4 0 1 1 4.8 0a2.4 2.4 0 1 1 -4.8 0ZM277.70 432.80a5.7 5.7 0 1 0 11.4 0a5.7 5.7 0 1 0 -11.4 0ZM281.00 432.80a2.4 2.4 0 1 1 4.8 0a2.4 2.4 0 1 1 -4.8 0ZM279.00 459.60a5.7 5.7 0 1 0 11.4 0a5.7 5.7 0 1 0 -11.4 0ZM282.30 459.60a2.4 2.4 0 1 1 4.8 0a2.4 2.4 0 1 1 -4.8 0Z" fill="#1010d0" fill-rule="nonzero"/>
</g>
<rect x="104.5" y="10.5" width="566.3" height="565.8" fill="none" stroke="#333" stroke-width="1.3"/>
<rect x="331.7" y="12.6" width="336.90000000000003" height="245.20000000000002" fill="#fff" stroke="#333" stroke-width="1.2"/>
<path d="M339.7 31.9H380.3" stroke="#000" stroke-width="3.6"/>
<path d="M354.30 31.90a5.7 5.7 0 1 0 11.4 0a5.7 5.7 0 1 0 -11.4 0ZM357.60 31.90a2.4 2.4 0 1 1 4.8 0a2.4 2.4 0 1 1 -4.8 0Z" fill="#000" fill-rule="nonzero"/>
<text transform="translate(383.9 40.8) scale(1.016 1)" font-family="Liberation Sans" font-size="24.3" fill="#000">Fusion with 20 db SNR</text>
<path d="M339.7 66.5H380.3" stroke="#000" stroke-width="3.6"/>
<path d="M360.00 58.30L367.50 71.00L352.50 71.00Z" fill="#000" fill-rule="nonzero"/>
<text transform="translate(383.9 75.4) scale(1.016 1)" font-family="Liberation Sans" font-size="24.3" fill="#000">Fusion with 15 db SNR</text>
<path d="M339.7 101.1H380.3" stroke="#000" stroke-width="3.6"/>
<path d="M355.30 96.40L364.70 96.40L364.70 105.80L355.30 105.80Z" fill="#000" fill-rule="nonzero"/>
<text transform="translate(383.9 110.0) scale(1.016 1)" font-family="Liberation Sans" font-size="24.3" fill="#000">Fusion with 10 db SNR</text>
<path d="M339.7 135.7H380.3" stroke="#000" stroke-width="3.6" stroke-dasharray="1 5"/>
<path d="M360.00 128.10L366.10 135.70L360.00 143.30L353.90 135.70ZM360.00 133.80L358.50 135.70L360.00 137.60L361.50 135.70Z" fill="#000" fill-rule="nonzero"/>
<text transform="translate(383.9 144.6) scale(1.016 1)" font-family="Liberation Sans" font-size="24.3" fill="#000">Fusion with 5 db SNR</text>
<path d="M339.7 170.3H380.3" stroke="#000" stroke-width="3.6"/>
<path d="M360.00 163.10L357.90 166.66L353.76 166.70L355.80 170.30L353.76 173.90L357.90 173.94L360.00 177.50L362.10 173.94L366.24 173.90L364.20 170.30L366.24 166.70L362.10 166.66Z" fill="#000" fill-rule="nonzero"/>
<text transform="translate(383.9 179.2) scale(1.016 1)" font-family="Liberation Sans" font-size="24.3" fill="#000">Fusion with 0 db SNR</text>
<path d="M339.7 204.9H380.3" stroke="#000" stroke-width="3.6" stroke-dasharray="8 8.25"/>
<path d="M352.70 200.60L367.30 200.60L360.00 213.00Z" fill="#000"/>
<text transform="translate(383.9 213.8) scale(1.016 1)" font-family="Liberation Sans" font-size="24.3" fill="#000">Fusion with -5 db SNR</text>
<path d="M339.7 239.5H380.3" stroke="#000" stroke-width="3.6"/>
<text transform="translate(383.9 248.4) scale(1.016 1)" font-family="Liberation Sans" font-size="24.3" fill="#000">Fusion with -10 db SNR</text>
</svg></body></html>
